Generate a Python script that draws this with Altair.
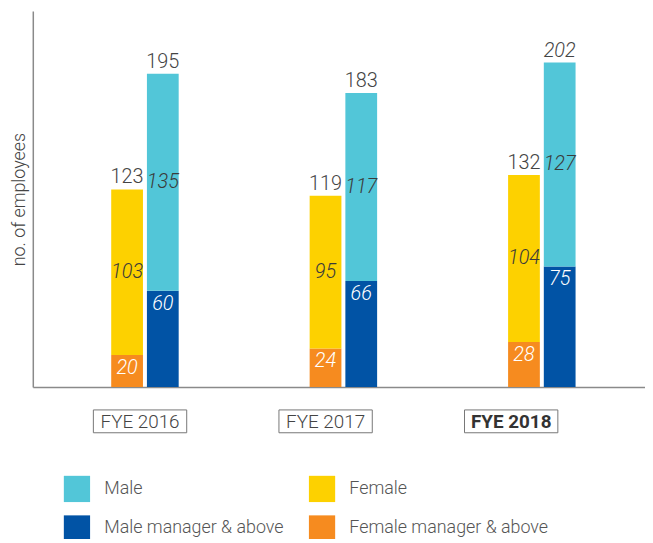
import altair as alt
import pandas as pd

years = ["FYE 2016", "FYE 2017", "FYE 2018"]
male_manager = [60, 66, 75]
male_other = [135, 117, 127]
female_manager = [20, 24, 28]
female_other = [103, 95, 104]
male_total_italic = [False, False, True]
bold_year = [False, False, True]

# legend fills column by column: Male / Male manager, then Female / Female manager
categories = ["Male", "Male manager & above", "Female", "Female manager & above"]
colors = ["#52C6D8", "#0153A5", "#FDD100", "#F68B1F"]

FONT = "Roboto"

rows = []
for i, yr in enumerate(years):
    rows.append(dict(year=yr, gender="Female", category="Female manager & above",
                     value=female_manager[i], order=0, manager=True))
    rows.append(dict(year=yr, gender="Female", category="Female",
                     value=female_other[i], order=1, manager=False))
    rows.append(dict(year=yr, gender="Male", category="Male manager & above",
                     value=male_manager[i], order=0, manager=True))
    rows.append(dict(year=yr, gender="Male", category="Male",
                     value=male_other[i], order=1, manager=False))
df = pd.DataFrame(rows)

tot_rows = []
for i, yr in enumerate(years):
    tot_rows.append(dict(year=yr, gender="Female",
                         total=female_manager[i] + female_other[i], italic=False))
    tot_rows.append(dict(year=yr, gender="Male",
                         total=male_manager[i] + male_other[i], italic=male_total_italic[i]))
tot = pd.DataFrame(tot_rows)

lab = pd.DataFrame({"year": years, "bold": bold_year})

x_main = alt.X("year:N", scale=alt.Scale(domain=years, paddingInner=0.6,
                                        paddingOuter=0.3425, align=0.533),
               axis=alt.Axis(labels=False, ticks=False, title=None, grid=False,
                             domainColor="#8a8a8a", domainWidth=1.5))
x_off = alt.XOffset("gender:N", scale=alt.Scale(domain=["Female", "Male"],
                                                paddingInner=0.111, paddingOuter=0.1667))
y_scale = alt.Scale(domain=[0, 234])
y_axis = alt.Axis(labels=False, ticks=False, grid=False, title="no. of employees",
                  domainColor="#8a8a8a", domainWidth=1.5,
                  titleX=-8, titleY=189.5, titleFont=FONT, titleFontSize=18,
                  titleFontWeight=300, titleColor="#444", titleBaseline="alphabetic")

base = alt.Chart(df).transform_stack(
    stack="value", groupby=["year", "gender"], sort=[alt.SortField("order")],
    as_=["y0", "y1"]
).transform_calculate(mid="(datum.y0 + datum.y1) / 2")

bars = base.mark_bar().encode(
    x=x_main, xOffset=x_off,
    y=alt.Y("y0:Q", scale=y_scale, axis=y_axis),
    y2="y1:Q",
    color=alt.Color("category:N", scale=alt.Scale(domain=categories, range=colors),
                    legend=alt.Legend(title=None, orient="none", legendX=31, legendY=468,
                                      columns=2, columnPadding=25, rowPadding=13,
                                      symbolType="square", symbolSize=700,
                                      symbolStrokeWidth=0, symbolOpacity=1,
                                      labelFont=FONT, labelFontSize=18, labelFontWeight=300,
                                      labelColor="#555", labelOffset=14, padding=0,
                                      labelLimit=400)),
)

seg_other = base.transform_filter("!datum.manager").mark_text(
    font=FONT, fontSize=20, fontStyle="italic", fontWeight=300, color="#3a3a3a",
    baseline="middle"
).encode(x=x_main, xOffset=x_off, y=alt.Y("mid:Q", scale=y_scale), text="value:Q")

seg_mgr = base.transform_filter("datum.manager").mark_text(
    font=FONT, fontSize=20, fontStyle="italic", fontWeight=300, color="white",
    baseline="top", dy=3
).encode(x=x_main, xOffset=x_off, y=alt.Y("y1:Q", scale=y_scale), text="value:Q")

tot_base = alt.Chart(tot)
tot_n = tot_base.transform_filter("!datum.italic").mark_text(
    font=FONT, fontSize=20, fontWeight=300, color="#444", baseline="alphabetic", dy=-6
).encode(x=x_main, xOffset=x_off, y=alt.Y("total:Q", scale=y_scale), text="total:Q")
tot_i = tot_base.transform_filter("datum.italic").mark_text(
    font=FONT, fontSize=20, fontWeight=300, fontStyle="italic", color="#444",
    baseline="alphabetic", dy=-6
).encode(x=x_main, xOffset=x_off, y=alt.Y("total:Q", scale=y_scale), text="total:Q")

main = alt.layer(bars, seg_other, seg_mgr, tot_n, tot_i)

x_lab = alt.X("year:N", scale=alt.Scale(domain=years, paddingInner=0.497,
                                       paddingOuter=0.398, align=0.41), axis=None)
lab_base = alt.Chart(lab)
boxes = lab_base.mark_rect(fill="white", stroke="#777", strokeWidth=1).encode(
    x=x_lab, y=alt.value(402), y2=alt.value(425))
lab_n = lab_base.transform_filter("!datum.bold").mark_text(
    font=FONT, fontSize=19, fontWeight=300, color="#444", baseline="middle"
).encode(x=x_lab, y=alt.value(414), text="year:N")
lab_b = lab_base.transform_filter("datum.bold").mark_text(
    font=FONT, fontSize=19, fontWeight="bold", color="#333", baseline="middle"
).encode(x=x_lab, y=alt.value(414), text="year:N")
labels = alt.layer(boxes, lab_n, lab_b)

chart = alt.layer(main, labels).resolve_scale(x="independent").properties(
    width=617, height=379,
    autosize=alt.AutoSizeParams(type="none"),
    padding={"left": 25, "top": 1, "right": 0, "bottom": 151},
).configure_view(stroke=None)

chart.save("out.html", embed_options={"renderer": "svg", "actions": False})
